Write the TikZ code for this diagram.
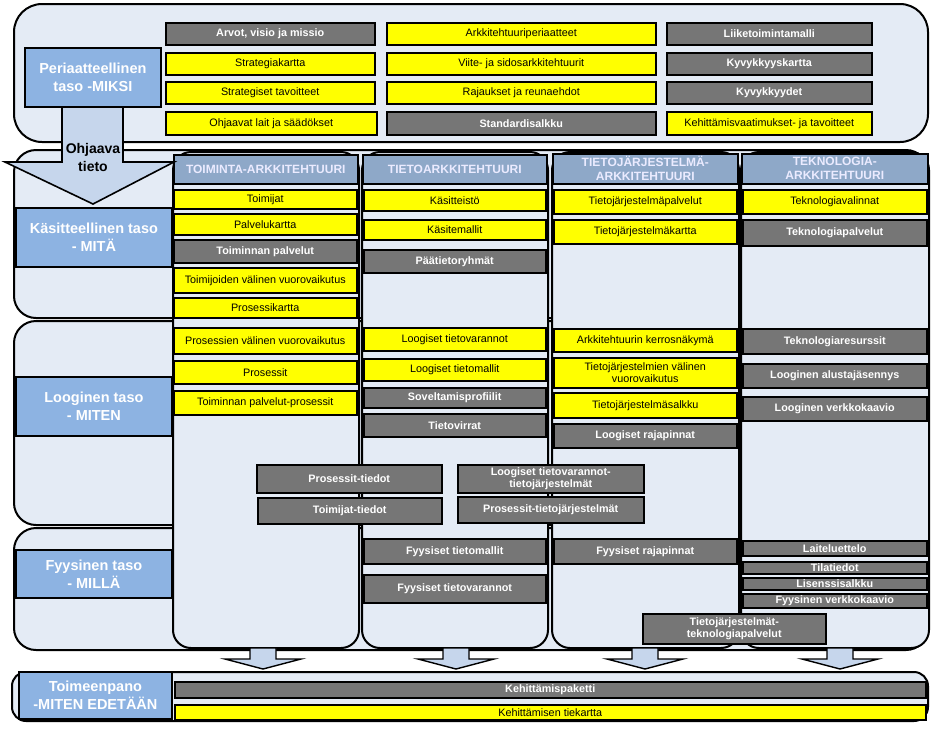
\documentclass[tikz,border=0pt]{standalone}
\usepackage{fontspec}
\setmainfont{Liberation Sans}
\definecolor{bandfill}{HTML}{E4EBF5}
\definecolor{labelblue}{HTML}{8DB3E2}
\definecolor{headblue}{HTML}{8EA8C8}
\definecolor{boxgray}{HTML}{767676}
\definecolor{boxyellow}{HTML}{FFFF00}
\definecolor{arrowfill}{HTML}{C6D6EC}
\tikzset{
  band/.style={draw=black, line width=2pt, fill=bandfill, rounded corners=22pt},
  colbox/.style={draw=black, line width=2pt, fill=bandfill, rounded corners=18pt, inner sep=0pt},
  ybox/.style={draw=black, line width=1.5pt, fill=boxyellow, text=black, inner sep=0pt,
    align=center, font=\fontsize{10.8}{12}\selectfont},
  gbox/.style={draw=black, line width=1.5pt, fill=boxgray, text=white, inner sep=0pt,
    align=center, font=\bfseries\fontsize{10.8}{12}\selectfont},
  headbox/.style={draw=black, line width=1.6pt, fill=headblue, text=white!92!blue, inner sep=0pt,
    align=center, font=\bfseries\fontsize{12}{14}\selectfont},
  lvlbox/.style={draw=black, line width=1.8pt, fill=labelblue, text=white, inner sep=0pt,
    align=center, font=\bfseries\fontsize{14.5}{18}\selectfont},
  blockarrow/.style={draw=black, line width=1.6pt, fill=arrowfill, line join=miter},
}
\newcommand{\mkbox}[7]{\node[#2, anchor=north west,
  minimum width={(#5-#3)*1pt}, minimum height={(#6-#4)*1pt}] (#1) at (#3,#4) {#7};}
\begin{document}
\begin{tikzpicture}[x=1pt,y=-1pt]
\useasboundingbox (0,0) rectangle (933,729);
\fill[white] (0,0) rectangle (933,729);

% ---------- bands ----------
\draw[band, rounded corners=28pt] (14,4) rectangle (928,142);
\draw[band] (14,150) rectangle (928,318);
\draw[band] (14,321) rectangle (928,525);
\draw[band] (14,528) rectangle (928,650);
\draw[band, rounded corners=14pt] (12,672) rectangle (928,721);

% ---------- top grid ----------
\mkbox{p11}{gbox}{165}{22}{374}{44}{Arvot, visio ja missio}
\mkbox{p12}{ybox}{165}{52}{374}{74}{Strategiakartta}
\mkbox{p13}{ybox}{165}{81}{374}{103}{Strategiset tavoitteet}
\mkbox{p14}{ybox}{165}{111}{376}{134}{Ohjaavat lait ja säädökset}
\mkbox{p21}{ybox}{386}{22}{655}{44}{Arkkitehtuuriperiaatteet}
\mkbox{p22}{ybox}{386}{52}{655}{74}{Viite- ja sidosarkkitehtuurit}
\mkbox{p23}{ybox}{386}{81}{655}{103}{Rajaukset ja reunaehdot}
\mkbox{p24}{gbox}{386}{111}{655}{134}{Standardisalkku}
\mkbox{p31}{gbox}{666}{22}{871}{44}{Liiketoimintamalli}
\mkbox{p32}{gbox}{666}{52}{871}{74}{Kyvykkyyskartta}
\mkbox{p33}{gbox}{666}{81}{871}{103}{Kyvykkyydet}
\mkbox{p34}{ybox}{666}{111}{871}{134}{Kehittämisvaatimukset- ja tavoitteet}

% ---------- columns ----------
\mkbox{ca}{colbox}{172}{151}{358}{647}{}
\mkbox{cb}{colbox}{361}{151}{547}{647}{}
\mkbox{cc}{colbox}{551}{151}{738}{647}{}
\mkbox{cd}{colbox}{740}{151}{928}{647}{}

\mkbox{ha}{headbox}{173}{154}{357}{183}{TOIMINTA-ARKKITEHTUURI}
\mkbox{hb}{headbox}{362}{154}{546}{183}{TIETOARKKITEHTUURI}
\mkbox{hc}{headbox}{552}{153}{737}{183}{TIETOJÄRJESTELMÄ-\\ARKKITEHTUURI}
\mkbox{hd}{headbox}{741}{153}{927}{183}{TEKNOLOGIA-\\ARKKITEHTUURI}

% column A
\mkbox{ta1}{ybox}{173}{189}{356}{208}{Toimijat}
\mkbox{ta2}{ybox}{173}{213}{356}{234}{Palvelukartta}
\mkbox{ta3}{gbox}{173}{239}{356}{262}{Toiminnan palvelut}
\mkbox{ta4}{ybox}{173}{267}{356}{292}{Toimijoiden välinen vuorovaikutus}
\mkbox{ta5}{ybox}{173}{297}{356}{317}{Prosessikartta}
\mkbox{ta6}{ybox}{173}{327}{356}{353}{Prosessien välinen vuorovaikutus}
\mkbox{ta7}{ybox}{173}{360}{356}{383}{Prosessit}
\mkbox{ta8}{ybox}{173}{390}{356}{414}{Toiminnan palvelut-prosessit}

% column B
\mkbox{tb1}{ybox}{363}{189}{545}{210}{Käsitteistö}
\mkbox{tb2}{ybox}{363}{219}{545}{239}{Käsitemallit}
\mkbox{tb3}{gbox}{363}{249}{545}{272}{Päätietoryhmät}
\mkbox{tb4}{ybox}{363}{327}{545}{350}{Loogiset tietovarannot}
\mkbox{tb5}{ybox}{363}{358}{545}{380}{Loogiset tietomallit}
\mkbox{tb6}{gbox}{363}{387}{545}{407}{Soveltamisprofiilit}
\mkbox{tb7}{gbox}{363}{413}{545}{436}{Tietovirrat}
\mkbox{tb8}{gbox}{363}{538}{545}{563}{Fyysiset tietomallit}
\mkbox{tb9}{gbox}{363}{574}{545}{602}{Fyysiset tietovarannot}

% column C
\mkbox{tc1}{ybox}{553}{189}{736}{213}{Tietojärjestelmäpalvelut}
\mkbox{tc2}{ybox}{553}{219}{736}{243}{Tietojärjestelmäkartta}
\mkbox{tc3}{ybox}{553}{328}{736}{351}{Arkkitehtuurin kerrosnäkymä}
\mkbox{tc4}{ybox}{553}{357}{736}{387}{Tietojärjestelmien välinen\\vuorovaikutus}
\mkbox{tc5}{ybox}{553}{392}{736}{417}{Tietojärjestelmäsalkku}
\mkbox{tc6}{gbox}{553}{423}{736}{447}{Loogiset rajapinnat}
\mkbox{tc7}{gbox}{553}{538}{736}{563}{Fyysiset rajapinnat}

% column D
\mkbox{td1}{ybox}{742}{189}{926}{213}{Teknologiavalinnat}
\mkbox{td2}{gbox}{742}{219}{926}{245}{Teknologiapalvelut}
\mkbox{td3}{gbox}{742}{328}{926}{353}{Teknologiaresurssit}
\mkbox{td4}{gbox}{742}{363}{926}{387}{Looginen alustajäsennys}
\mkbox{td5}{gbox}{742}{396}{926}{420}{Looginen verkkokaavio}
\mkbox{td6}{gbox}{742}{540}{926}{555}{Laiteluettelo}
\mkbox{td7}{gbox}{742}{561}{926}{573}{Tilatiedot}
\mkbox{td8}{gbox}{742}{577}{926}{589}{Lisenssisalkku}
\mkbox{td9}{gbox}{742}{593}{926}{607}{Fyysinen verkkokaavio}

% cross items
\mkbox{x1}{gbox}{256}{464}{441}{492}{Prosessit-tiedot}
\mkbox{x2}{gbox}{257}{497}{441}{523}{Toimijat-tiedot}
\mkbox{x3}{gbox}{457}{464}{643}{492}{Loogiset tietovarannot-\\tietojärjestelmät}
\mkbox{x4}{gbox}{457}{496}{643}{522}{Prosessit-tietojärjestelmät}
\mkbox{x5}{gbox}{642}{613}{825}{643}{Tietojärjestelmät-\\teknologiapalvelut}

% bottom bars
\mkbox{k1}{gbox}{174}{681}{925}{697}{Kehittämispaketti}
\mkbox{k2}{ybox}{174}{704}{925}{719}{Kehittämisen tiekartta}

% ---------- Ohjaava tieto arrow ----------
\draw[blockarrow] (62,106) -- (123,106) -- (123,162) -- (174,162) -- (93,204)
  -- (5,162) -- (62,162) -- cycle;
\node[font=\bfseries\fontsize{14}{18}\selectfont, align=center, inner sep=0pt] (ohj) at (93,157) {Ohjaava\\tieto};

% ---------- level labels ----------
\mkbox{l1}{lvlbox}{24}{47}{160}{106}{Periaatteellinen\\taso -MIKSI}
\mkbox{l2}{lvlbox}{15}{207}{171}{266}{Käsitteellinen taso\\- MITÄ}
\mkbox{l3}{lvlbox}{15}{376}{171}{435}{Looginen taso\\- MITEN}
\mkbox{l4}{lvlbox}{15}{549}{171}{597}{Fyysinen taso\\- MILLÄ}
\mkbox{l5}{lvlbox}{18}{671}{171}{718}{Toimeenpano\\-MITEN EDETÄÄN}

% ---------- bottom block arrows ----------
\foreach \cx in {263,456,645,840} {
  \draw[blockarrow, line width=1.4pt] (\cx-13,648) -- (\cx+13,648) -- (\cx+13,659) -- (\cx+38,659)
    -- (\cx,669) -- (\cx-38,659) -- (\cx-13,659) -- cycle;
}
\end{tikzpicture}
\end{document}
